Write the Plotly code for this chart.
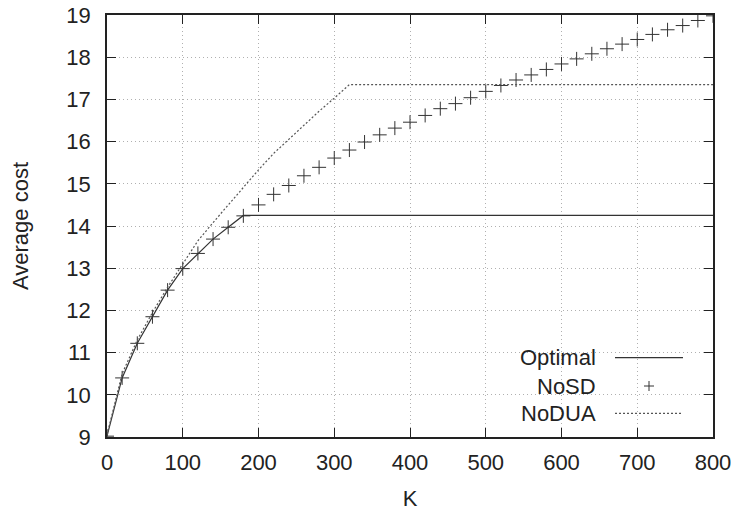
import plotly.graph_objects as go

# ---- data ----
K_nosd = list(range(0, 801, 20))
nosd = [9.02, 10.40, 11.22, 11.85, 12.48, 12.99, 13.35, 13.69, 13.97, 14.24,
        14.50, 14.75, 14.96, 15.19, 15.39, 15.61, 15.80, 15.99, 16.16, 16.32,
        16.46, 16.62, 16.78, 16.90, 17.04, 17.19, 17.33, 17.46, 17.58, 17.71,
        17.84, 17.96, 18.08, 18.20, 18.31, 18.42, 18.54, 18.65, 18.75, 18.87, 18.98]

K_opt = [0, 20, 40, 60, 80, 100, 120, 140, 160, 180, 800]
optimal = [9.02, 10.40, 11.22, 11.85, 12.48, 12.99, 13.35, 13.69, 13.97, 14.25, 14.25]

K_nodua = [0, 20, 40, 60, 80, 100, 120, 140, 160, 180, 200, 220, 240, 260, 280, 300, 320, 800]
nodua = [9.05, 10.50, 11.30, 11.95, 12.55, 13.10, 13.65, 14.08, 14.50, 14.93, 15.33,
         15.72, 16.06, 16.40, 16.72, 17.03, 17.35, 17.35]

x_ticks = list(range(0, 801, 100))
y_ticks = list(range(9, 20, 1))
legend_names = ["Optimal", "NoSD", "NoDUA"]

# ---- layout constants (pixels) ----
W, H = 741, 517
PL, PR, PT, PB = 107, 713, 15, 437   # plot area
L, T, R, B = PL, PT, W - PR, H - PB
PW, PH = PR - PL, PB - PT
FONT = "Liberation Sans, Arial, sans-serif"
FS = 22
INK = "#222222"
DOTS = "2px,2px"

def px(xp):
    return (xp - PL) / PW

def py(yp):
    return (PB - yp) / PH

fig = go.Figure()
fig.add_trace(go.Scatter(x=K_opt, y=optimal, mode="lines", name=legend_names[0],
                         line=dict(color="#333333", width=1.2), showlegend=False))
fig.add_trace(go.Scatter(x=K_nosd, y=nosd, mode="markers", name=legend_names[1],
                         marker=dict(symbol="cross-thin", size=10,
                                     line=dict(color="#333333", width=1)),
                         showlegend=False))
fig.add_trace(go.Scatter(x=K_nodua, y=nodua, mode="lines", name=legend_names[2],
                         line=dict(color="#555555", width=1.2, dash=DOTS),
                         showlegend=False))

# ---- custom gnuplot-style key (text left, sample right) ----
shapes = [dict(type="rect", xref="paper", yref="paper", x0=px(497), x1=1, y0=0, y1=py(343),
               fillcolor="white", line=dict(width=0), layer="between")]
annotations = []
rows = [357.7, 386, 413.3]
for name, yr in zip(legend_names, rows):
    annotations.append(dict(text=name, xref="paper", yref="paper", x=px(598), y=py(yr),
                            xanchor="right", yanchor="middle", showarrow=False,
                            font=dict(family=FONT, size=FS, color=INK)))
shapes.append(dict(type="line", xref="paper", yref="paper", x0=px(615), x1=px(683),
                   y0=py(rows[0]), y1=py(rows[0]), line=dict(color="#333333", width=1.2)))
shapes.append(dict(type="line", xref="paper", yref="paper", x0=px(644), x1=px(654),
                   y0=py(rows[1]), y1=py(rows[1]), line=dict(color="#333333", width=1)))
shapes.append(dict(type="line", xref="paper", yref="paper", x0=px(649), x1=px(649),
                   y0=py(rows[1] - 5), y1=py(rows[1] + 5), line=dict(color="#333333", width=1)))
shapes.append(dict(type="line", xref="paper", yref="paper", x0=px(615), x1=px(683),
                   y0=py(rows[2]), y1=py(rows[2]), line=dict(color="#555555", width=1.2, dash=DOTS)))

axis_common = dict(showline=True, linecolor=INK, linewidth=1.5, mirror="ticks",
                   ticks="inside", ticklen=9, tickwidth=1.2, tickcolor=INK,
                   showgrid=True, gridcolor="#b0b0b0", griddash="1px,3px", gridwidth=1,
                   zeroline=False, ticklabeloverflow="allow",
                   tickfont=dict(family=FONT, size=FS, color=INK))

fig.update_layout(
    width=W, height=H,
    margin=dict(l=L, r=R, t=T, b=B, autoexpand=False),
    paper_bgcolor="white", plot_bgcolor="white",
    font=dict(family=FONT, size=FS, color=INK),
    xaxis=dict(range=[0, 800], tickvals=x_ticks, ticklabelstandoff=5,
               title=dict(text="K", standoff=16, font=dict(family=FONT, size=FS, color=INK)),
               **axis_common),
    yaxis=dict(range=[9, 19], tickvals=y_ticks, ticklabelstandoff=10,
               title=dict(text="Average cost", standoff=32, font=dict(family=FONT, size=FS, color=INK)),
               **axis_common),
    shapes=shapes,
    annotations=annotations,
)

fig.write_html("out.html", config={"displayModeBar": False},
               post_script="document.body.style.margin='0';")
